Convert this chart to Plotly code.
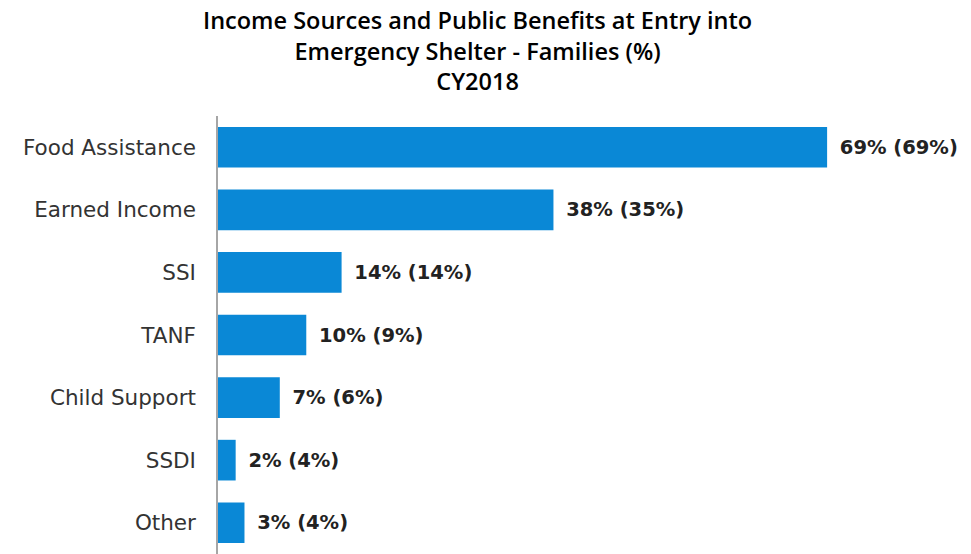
import plotly.graph_objects as go

# Share of families with each income source / benefit at shelter entry
categories = ["Food Assistance", "Earned Income", "SSI", "TANF",
              "Child Support", "SSDI", "Other"]
pct_cy2018 = [69, 38, 14, 10, 7, 2, 3]
pct_prior = [69, 35, 14, 9, 6, 4, 4]

labels = [f"\u2002{a}% ({b}%)" for a, b in zip(pct_cy2018, pct_prior)]

title_lines = ["Income Sources and Public Benefits at Entry into",
               "Emergency Shelter - Families (%)",
               "CY2018"]

PLOT_TOP = 116
PLOT_H = 554 - PLOT_TOP

fig = go.Figure(
    go.Bar(
        x=pct_cy2018,
        y=categories,
        orientation="h",
        marker=dict(color="#0a88d6", line=dict(width=0)),
        text=labels,
        textposition="outside",
        cliponaxis=False,
        textangle=0,
        textfont=dict(family="DejaVu Sans", size=19.5, color="#222222"),
        texttemplate="<b>%{text}</b>",
        width=0.65,
    )
)

# Three-line title centred over the chart
fig.add_annotation(
    text="<br>".join(title_lines),
    xref="paper", yref="paper",
    x=0.345, y=1 + (PLOT_TOP - 51) / PLOT_H,
    xanchor="center", yanchor="middle",
    align="center",
    showarrow=False,
    font=dict(family="Open Sans", size=23.5, color="#000000", weight=600),
)

fig.update_layout(
    width=971,
    height=554,
    margin=dict(l=218, r=0, t=PLOT_TOP, b=0),
    paper_bgcolor="white",
    plot_bgcolor="white",
    showlegend=False,
    xaxis=dict(range=[0, 85.3], visible=False, fixedrange=True),
    yaxis=dict(
        autorange="reversed",
        showline=True,
        linecolor="#a6a6a6",
        linewidth=1.5,
        ticks="",
        ticklabelstandoff=16,
        tickfont=dict(family="DejaVu Sans", size=21.5, color="#333333"),
        showgrid=False,
        zeroline=False,
    ),
    bargap=0.35,
)

fig.write_html("out.html")
